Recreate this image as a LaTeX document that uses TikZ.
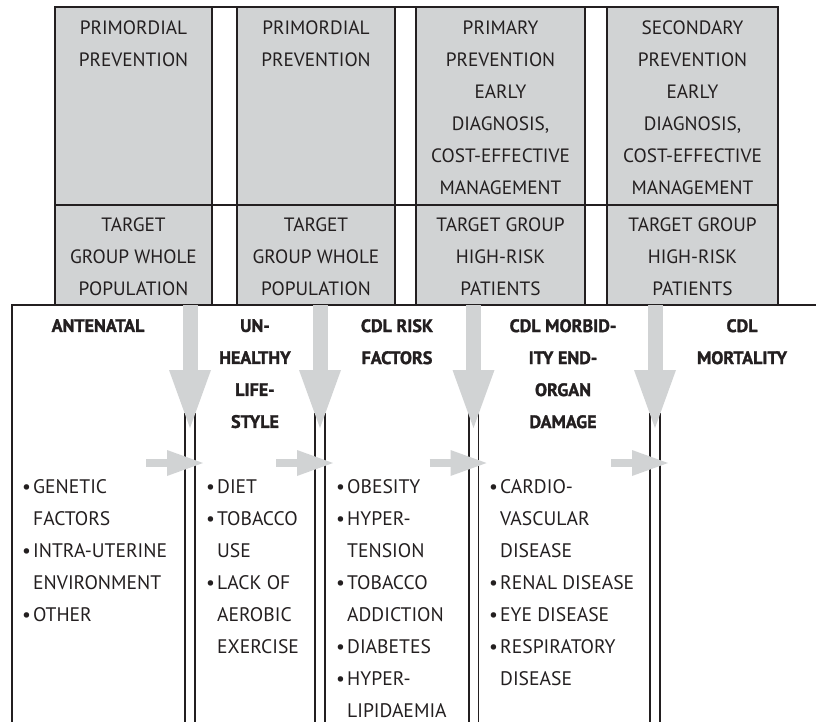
\documentclass[tikz,border=0pt]{standalone}
\usepackage{fontspec}
\setmainfont{PT Sans}[BoldFeatures={FakeBold=1.6}]
\usetikzlibrary{arrows.meta}
\definecolor{boxgray}{HTML}{D1D3D4}
\definecolor{inkline}{HTML}{231F20}
\newcommand{\bul}{\makebox[11pt][l]{\textbullet}}
\newcommand{\nob}{\makebox[11pt]{}}

\begin{document}
\begin{tikzpicture}[
  x=1pt, y=-1pt,
  frame/.style={draw=inkline, line width=1.8pt},
  boxtext/.style={anchor=north, align=center, inner sep=0pt, text=inkline, font=\fontsize{19.3}{32}\selectfont},
  headtext/.style={boxtext, font=\fontsize{18}{32}\selectfont\bfseries},
  listtext/.style={anchor=north west, align=left, inner sep=0pt, text=inkline, font=\fontsize{19.6}{32}\selectfont},
  twinline/.style={draw=inkline, line width=1.6pt, double=white, double distance=8pt},
  downarrow/.style={draw=boxgray, line width=15pt, -{Triangle[width=42pt, length=58pt, line width=0pt]}},
  sidearrow/.style={draw=boxgray, line width=8pt, -{Triangle[width=26pt, length=36pt, line width=0pt]}}
]
  \useasboundingbox (0,0) rectangle (816,722);

  % --- PREVENTION TABLE ---
  \fill[boxgray] (55,7) rectangle (212,305);
  \fill[boxgray] (237,7) rectangle (395,305);
  \fill[boxgray] (416,7) rectangle (585,305);
  \fill[boxgray] (607,7) rectangle (778,305);
  \draw[frame] (55,7) rectangle (778,305);
  \draw[frame] (55,205) -- (778,205);
  \foreach \x in {212,237,395,416,585,607}
    \draw[frame] (\x,7) -- (\x,305);

  \node[boxtext] (p1) at (133.5,21) {PRIMORDIAL\\PREVENTION};
  \node[boxtext] (p2) at (316,21) {PRIMORDIAL\\PREVENTION};
  \node[boxtext] (p3) at (500.5,21) {PRIMARY\\PREVENTION\\EARLY\\DIAGNOSIS,\\COST-EFFECTIVE\\MANAGEMENT};
  \node[boxtext] (p4) at (692.5,21) {SECONDARY\\PREVENTION\\EARLY\\DIAGNOSIS,\\COST-EFFECTIVE\\MANAGEMENT};

  \node[boxtext] (t1) at (133.5,218) {TARGET\\GROUP WHOLE\\POPULATION};
  \node[boxtext] (t2) at (316,218) {TARGET\\GROUP WHOLE\\POPULATION};
  \node[boxtext] (t3) at (500.5,218) {TARGET GROUP\\HIGH-RISK\\PATIENTS};
  \node[boxtext] (t4) at (692.5,218) {TARGET GROUP\\HIGH-RISK\\PATIENTS};

  % --- STAGES ---
  \draw[frame] (816,305) -- (12,305) -- (12,722);
  \foreach \x [count=\i] in {190,320,473.5,655} {
    \coordinate (s\i) at (\x,413);
    \coordinate (b\i) at (\x,722);
    \draw[twinline] (s\i) -- (b\i);
  }

  \node[headtext] (h1) at (98,319) {ANTENATAL};
  \node[headtext] (h2) at (255,319) {UN-\\HEALTHY\\LIFE-\\STYLE};
  \node[headtext] (h3) at (397,319) {CDL RISK\\FACTORS};
  \node[headtext] (h4) at (563,319) {CDL MORBID-\\ITY END-\\ORGAN\\DAMAGE};
  \node[headtext] (h5) at (742,319) {CDL\\MORTALITY};

  \node[listtext] (l1) at (22,479) {\bul GENETIC\\\nob FACTORS\\\bul INTRA-UTERINE\\\nob ENVIRONMENT\\\bul OTHER};
  \node[listtext] (l2) at (206,479) {\bul DIET\\\bul TOBACCO\\\nob USE\\\bul LACK OF\\\nob AEROBIC\\\nob EXERCISE};
  \node[listtext] (l3) at (336,479) {\bul OBESITY\\\bul HYPER-\\\nob TENSION\\\bul TOBACCO\\\nob ADDICTION\\\bul DIABETES\\\bul HYPER-\\\nob LIPIDAEMIA};
  \node[listtext] (l4) at (489,479) {\bul CARDIO-\\\nob VASCULAR\\\nob DISEASE\\\bul RENAL DISEASE\\\bul EYE DISEASE\\\bul RESPIRATORY\\\nob DISEASE};

  % --- ARROWS ---
  \foreach \x [count=\i] in {190,320,473.5,655} {
    \coordinate (d\i) at (\x,305);
    \coordinate (e\i) at (\x,428);
    \draw[downarrow] (d\i) -- (e\i);
    \coordinate (f\i) at (\x-44,463);
    \coordinate (g\i) at (\x+13,463);
    \draw[sidearrow] (f\i) -- (g\i);
  }
\end{tikzpicture}
\end{document}
